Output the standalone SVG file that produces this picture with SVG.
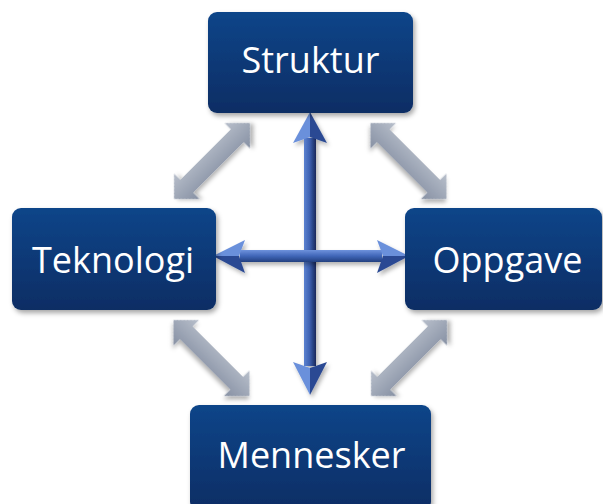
<svg xmlns="http://www.w3.org/2000/svg" width="603" height="504" viewBox="0 0 603 504">
  <defs>
    <linearGradient id="boxGrad" x1="0" y1="0" x2="0" y2="1">
      <stop offset="0" stop-color="#0E4589"/>
      <stop offset="1" stop-color="#0A2D64"/>
    </linearGradient>
    <linearGradient id="greyGrad" x1="0" y1="0" x2="0" y2="1">
      <stop offset="0" stop-color="#B8BFCB"/>
      <stop offset="1" stop-color="#8690A3"/>
    </linearGradient>
    <linearGradient id="vShaft" x1="0" y1="0" x2="1" y2="0">
      <stop offset="0" stop-color="#5C82D0"/>
      <stop offset="0.45" stop-color="#3F63B4"/>
      <stop offset="1" stop-color="#17285A"/>
    </linearGradient>
    <linearGradient id="hShaft" x1="0" y1="0" x2="0" y2="1">
      <stop offset="0" stop-color="#6E92DC"/>
      <stop offset="0.5" stop-color="#4066B8"/>
      <stop offset="1" stop-color="#22407F"/>
    </linearGradient>
    <filter id="shadow" x="-20%" y="-20%" width="140%" height="140%">
      <feDropShadow dx="2" dy="3" stdDeviation="2.5" flood-color="#000" flood-opacity="0.35"/>
    </filter>
    <filter id="ashadow" x="-20%" y="-20%" width="140%" height="140%">
      <feDropShadow dx="2" dy="3" stdDeviation="2" flood-color="#000" flood-opacity="0.3"/>
    </filter>
    <polygon id="dbl" points="-53.7,0 -35.7,-18 -35.7,-9 35.7,-9 35.7,-18 53.7,0 35.7,18 35.7,9 -35.7,9 -35.7,18"/>
  </defs>
  <style>
    .box { fill: url(#boxGrad); filter: url(#shadow); }
    .lbl { font-family: "Open Sans", "Liberation Sans", sans-serif; font-size: 36px; fill: #FFFFFF; text-anchor: middle; }
    .grey { fill: url(#greyGrad); filter: url(#ashadow); }
    .hl { fill: #6B90DB; }
    .dk { fill: #2C4A93; }
  </style>

  <g id="connectors">
    <use href="#dbl" class="grey" transform="translate(212,161) rotate(-45)"/>
    <use href="#dbl" class="grey" transform="translate(408.5,161) rotate(45)"/>
    <use href="#dbl" class="grey" transform="translate(211.5,358) rotate(45)"/>
    <use href="#dbl" class="grey" transform="translate(409,358) rotate(-45)"/>

    <g id="vertical-arrow" filter="url(#ashadow)">
      <rect x="304" y="138" width="12" height="228" fill="url(#vShaft)"/>
      <polygon class="hl" points="310,112 293,143 310,137"/>
      <polygon class="dk" points="310,112 327,143 310,137"/>
      <polygon class="hl" points="310,395 293,362 310,368"/>
      <polygon class="dk" points="310,395 327,362 310,368"/>
    </g>
    <g id="horizontal-arrow" filter="url(#ashadow)">
      <rect x="240" y="250" width="142" height="12" fill="url(#hShaft)"/>
      <polygon class="hl" points="213,256 245,240 239,256"/>
      <polygon class="dk" points="213,256 245,273 239,256"/>
      <polygon class="hl" points="409,256 377,240 383,256"/>
      <polygon class="dk" points="409,256 377,273 383,256"/>
    </g>
  </g>

  <g id="node-struktur">
    <rect class="box" x="208" y="12" width="205" height="101" rx="9"/>
    <text class="lbl" x="310.5" y="73">Struktur</text>
  </g>
  <g id="node-teknologi">
    <rect class="box" x="12" y="208" width="204" height="102" rx="9"/>
    <text class="lbl" x="113" y="273">Teknologi</text>
  </g>
  <g id="node-oppgave">
    <rect class="box" x="405" y="208" width="197" height="102" rx="9"/>
    <text class="lbl" x="507.5" y="273">Oppgave</text>
  </g>
  <g id="node-mennesker">
    <rect class="box" x="190" y="405" width="241" height="106" rx="9"/>
    <text class="lbl" x="311.5" y="468">Mennesker</text>
  </g>
</svg>
